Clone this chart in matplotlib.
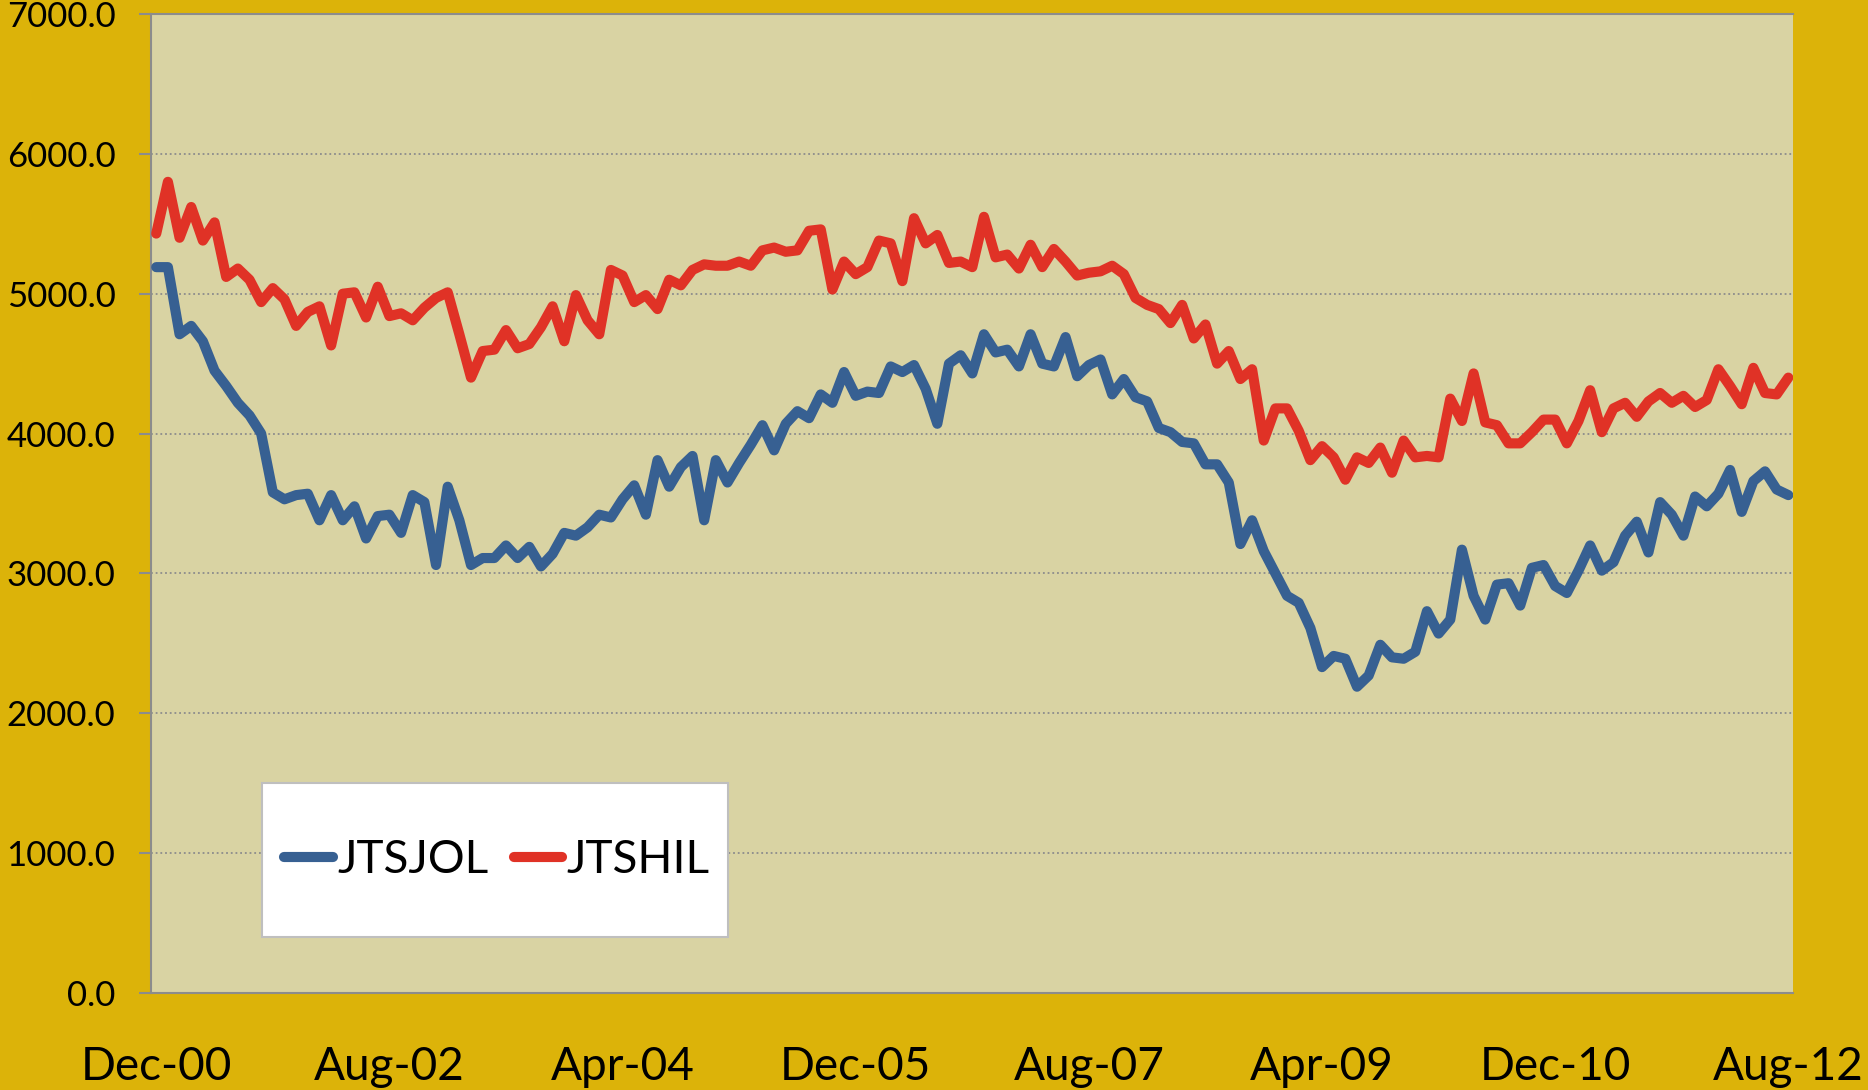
"""JOLTS job openings (JTSJOL) vs hires (JTSHIL), Dec-00 .. Aug-12."""
import matplotlib
matplotlib.use("Agg")
import matplotlib.pyplot as plt
from matplotlib.patches import Rectangle
import pandas as pd

plt.rcParams["font.family"] = ["Lato", "DejaVu Sans"]

# colours (Excel-ish theme)
GOLD = "#DCB309"
PLOT_BG = "#D9D3A3"
BLUE = "#376092"
RED = "#E03226"
GRID = "#8C8C8C"
LW = 7.3

# monthly categories
months = pd.date_range("2000-12-01", "2012-08-01", freq="MS")
tick_idx = [0, 20, 40, 60, 80, 100, 120, 140]
tick_labels = ["Dec-00", "Aug-02", "Apr-04", "Dec-05", "Aug-07", "Apr-09", "Dec-10", "Aug-12"]

# job openings, thousands
jtsjol = [
    5190, 5190, 4710, 4770, 4660, 4450, 4340, 4220, 4130, 4000,
    3580, 3530, 3560, 3570, 3380, 3560, 3380, 3480, 3250, 3410,
    3420, 3290, 3560, 3510, 3060, 3620, 3380, 3060, 3110, 3110,
    3200, 3110, 3190, 3050, 3140, 3290, 3270, 3330, 3420, 3400,
    3530, 3630, 3420, 3810, 3620, 3760, 3840, 3380, 3810, 3650,
    3790, 3920, 4060, 3880, 4070, 4160, 4110, 4280, 4220, 4440,
    4270, 4300, 4290, 4480, 4440, 4490, 4320, 4070, 4500, 4560,
    4430, 4710, 4580, 4600, 4480, 4710, 4500, 4480, 4690, 4410,
    4490, 4530, 4280, 4390, 4260, 4230, 4040, 4010, 3940, 3930,
    3780, 3780, 3650, 3210, 3380, 3160, 3000, 2840, 2790, 2610,
    2330, 2410, 2390, 2190, 2270, 2490, 2400, 2390, 2440, 2730,
    2570, 2670, 3170, 2840, 2670, 2920, 2930, 2770, 3040, 3060,
    2910, 2860, 3020, 3200, 3020, 3080, 3270, 3370, 3150, 3510,
    3420, 3270, 3550, 3480, 3570, 3740, 3440, 3660, 3730, 3600,
    3560,
]

# hires, thousands
jtshil = [
    5430, 5800, 5400, 5620, 5380, 5510, 5120, 5180, 5100, 4940,
    5040, 4960, 4770, 4870, 4910, 4630, 5000, 5010, 4830, 5050,
    4840, 4860, 4810, 4900, 4970, 5010, 4710, 4400, 4590, 4600,
    4740, 4610, 4640, 4760, 4910, 4660, 4990, 4810, 4710, 5170,
    5130, 4940, 4990, 4890, 5100, 5060, 5170, 5210, 5200, 5200,
    5230, 5200, 5310, 5330, 5300, 5310, 5450, 5460, 5030, 5230,
    5140, 5190, 5380, 5360, 5090, 5540, 5360, 5420, 5220, 5230,
    5190, 5550, 5260, 5280, 5180, 5350, 5190, 5320, 5230, 5130,
    5150, 5160, 5200, 5140, 4970, 4920, 4890, 4790, 4920, 4680,
    4780, 4500, 4590, 4390, 4460, 3950, 4180, 4180, 4020, 3810,
    3910, 3830, 3670, 3830, 3790, 3900, 3720, 3950, 3830, 3840,
    3830, 4250, 4090, 4430, 4080, 4060, 3930, 3930, 4010, 4100,
    4100, 3930, 4090, 4310, 4010, 4180, 4220, 4120, 4230, 4290,
    4220, 4270, 4190, 4240, 4460, 4340, 4210, 4470, 4290, 4280,
    4400,
]

fig = plt.figure(figsize=(18.68, 10.90), dpi=100, facecolor=GOLD)
ax = fig.add_axes([151 / 1868, 1 - 993 / 1090, (1793 - 151) / 1868, (993 - 14) / 1090])
ax.set_facecolor(PLOT_BG)

x = range(len(months))
ax.plot(x, jtsjol, color=BLUE, lw=LW, solid_capstyle="round", solid_joinstyle="round",
        label="JTSJOL", zorder=3)
ax.plot(x, jtshil, color=RED, lw=LW, solid_capstyle="round", solid_joinstyle="round",
        label="JTSHIL", zorder=3)

ax.set_xlim(-0.45, len(months) - 1 + 0.4)
ax.set_ylim(0, 7000)
ax.set_yticks(range(0, 7001, 1000))
ax.set_yticklabels([f"{v:.1f}" for v in range(0, 7001, 1000)])
ax.set_xticks(tick_idx)
ax.set_xticklabels(tick_labels)

ax.grid(axis="y", color=GRID, linestyle=(0, (1, 1.6)), linewidth=1.3, zorder=1)
ax.set_axisbelow(True)
ax.spines["right"].set_visible(False)
for side in ("left", "bottom", "top"):
    ax.spines[side].set_color(GRID)
    ax.spines[side].set_linewidth(1.5)

ax.tick_params(axis="y", length=8.6, width=1.5, color=GRID, pad=17, labelsize=25, labelcolor="black")
ax.tick_params(axis="x", length=0, pad=38, labelsize=33, labelcolor="black")

# legend box (white, thin grey border) with the entries on top
ax.add_patch(Rectangle((262 / 1868, 1 - 937 / 1090), 466 / 1868, 154 / 1090,
                       transform=fig.transFigure, facecolor="white", edgecolor="#BFBFBF",
                       linewidth=1.5, zorder=4))
leg = ax.legend(loc="center", bbox_to_anchor=(497 / 1868, 1 - 860 / 1090),
                bbox_transform=fig.transFigure, ncol=2, frameon=False, fontsize=33,
                handlelength=1.05, handletextpad=0.1, columnspacing=0.55)
leg.set_zorder(5)
for h in leg.get_lines():
    h.set_linewidth(LW)
    h.set_solid_capstyle("round")

fig.savefig("out.png", dpi=100, facecolor=GOLD)
